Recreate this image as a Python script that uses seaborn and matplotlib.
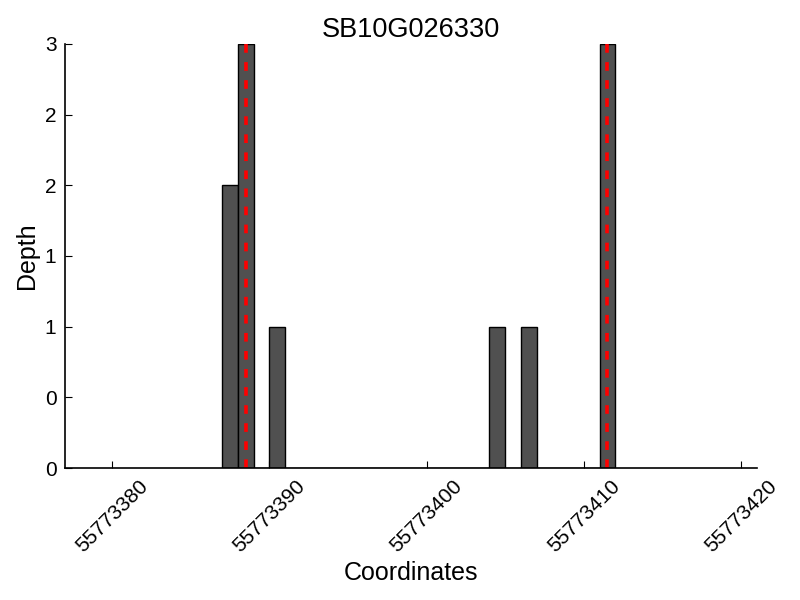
import matplotlib
matplotlib.use('Agg')
import matplotlib.pyplot as plt
from matplotlib.ticker import FormatStrFormatter, MultipleLocator
import seaborn as sns
import pandas as pd

coords = [55773387, 55773388, 55773390, 55773404, 55773406, 55773411]
depth = [2, 3, 1, 1, 1, 3]
marks = [55773388.5, 55773411.5]
title = 'SB10G026330'

sns.set_style('white')
plt.rcParams['font.family'] = ['Liberation Sans', 'DejaVu Sans']
plt.rcParams['text.color'] = 'black'
plt.rcParams['axes.labelcolor'] = 'black'

df = pd.DataFrame({'coord': coords, 'depth': depth})

fig = plt.figure(figsize=(8, 6), dpi=100)
ax = fig.add_axes([0.081, 0.22, 0.865, 0.707])

sns.histplot(data=df, x='coord', weights='depth', binwidth=1,
             binrange=(min(coords), max(coords) + 1), color='#505050',
             edgecolor='black', linewidth=1, alpha=1, ax=ax)
for m in marks:
    ax.axvline(m, color='red', linestyle=(0, (2.4, 2.6)), linewidth=2.6)

ax.set_xlim(55773377, 55773421)
ax.set_ylim(0, max(depth))
ax.xaxis.set_major_locator(MultipleLocator(10))
ax.xaxis.set_major_formatter(FormatStrFormatter('%d'))
ax.yaxis.set_major_locator(MultipleLocator(0.5))
ax.yaxis.set_major_formatter(FormatStrFormatter('%d'))

ax.tick_params(bottom=True, left=True, direction='in', length=5, width=0.8,
               labelsize=15, colors='black', pad=6)
plt.setp(ax.get_xticklabels(), rotation=45, ha='center')
ax.set_xlabel('Coordinates', fontsize=18, color='black')
ax.set_ylabel('Depth', fontsize=18, color='black')
ax.set_title(title, fontsize=19.5, pad=5, color='black')
sns.despine(ax=ax)
for s in ['left', 'bottom']:
    ax.spines[s].set_color('black')
    ax.spines[s].set_linewidth(1.2)

fig.savefig('out.png', dpi=100)
plt.close(fig)
